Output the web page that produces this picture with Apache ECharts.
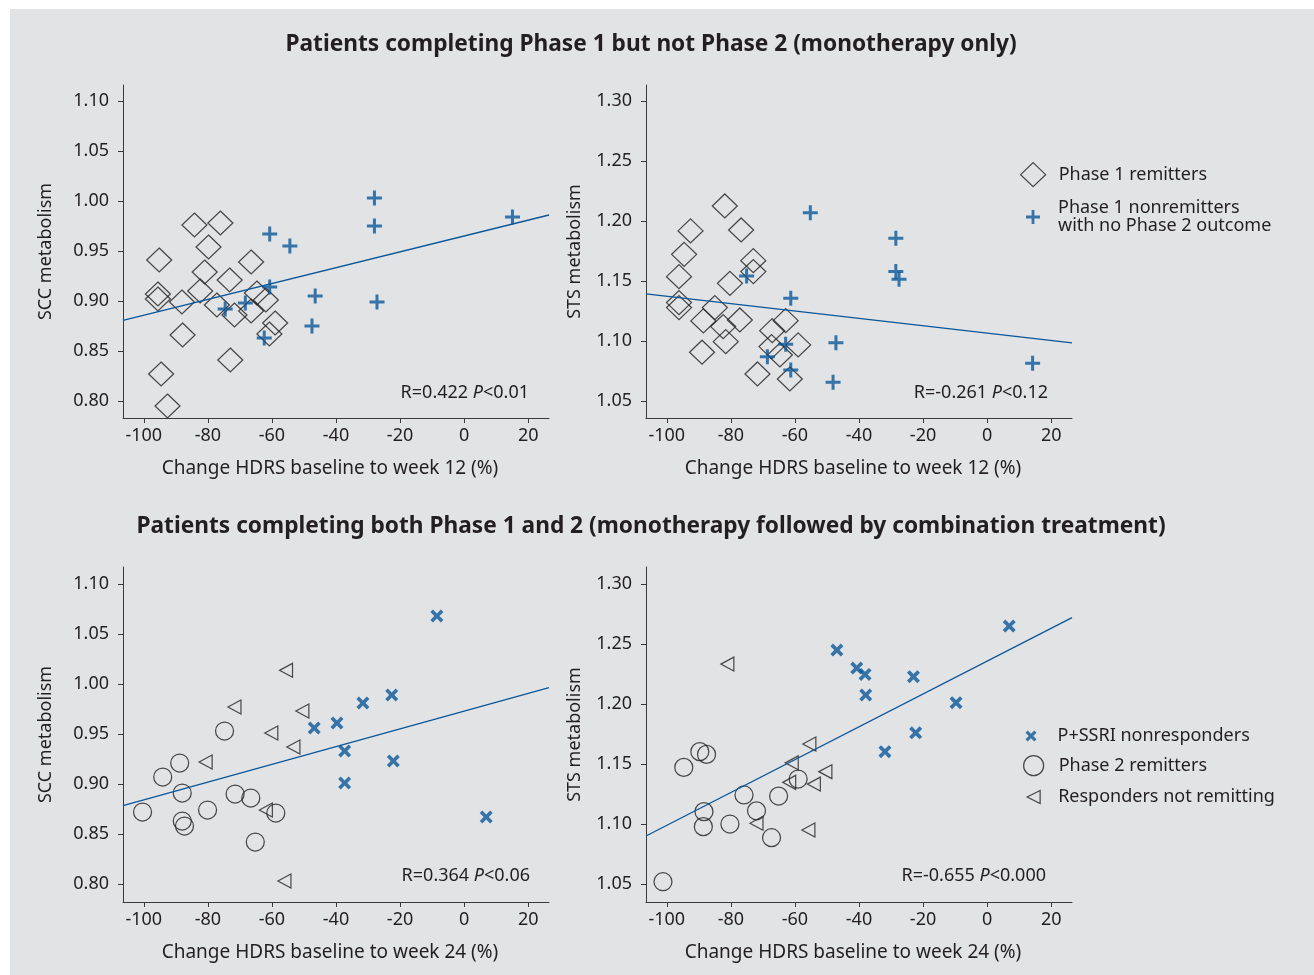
<!DOCTYPE html>
<html>
<head>
<meta charset="utf-8">
<script src="https://cdn.jsdelivr.net/npm/echarts@6/dist/echarts.min.js"></script>
<style>
html,body{margin:0;padding:0;background:#fff;}
#bg{position:absolute;left:10px;top:9px;width:1304px;height:966px;background:#e1e3e5;}
#chart{position:absolute;left:0;top:0;width:1314px;height:975px;}
</style>
</head>
<body>
<div id="bg"></div>
<div id="chart"></div>
<script>
// ---- Data ----
const xTicks = [-100, -80, -60, -40, -20, 0, 20];
const sccTicks = [0.80, 0.85, 0.90, 0.95, 1.00, 1.05, 1.10];
const stsTicks = [1.05, 1.10, 1.15, 1.20, 1.25, 1.30];

// Top row: Phase 1 only
const p1RemittersSCC = [[-95.2,0.941],[-84.2,0.976],[-76.1,0.978],[-79.8,0.954],[-66.5,0.939],[-81.0,0.929],[-73.2,0.921],[-95.6,0.907],[-95.6,0.902],[-88.1,0.899],[-82.4,0.910],[-77.2,0.896],[-71.7,0.886],[-66.5,0.890],[-64.7,0.908],[-61.9,0.901],[-59.0,0.878],[-60.8,0.867],[-87.9,0.866],[-73.0,0.841],[-94.6,0.827],[-92.6,0.795]];
const p1NonremSCC = [[-28.0,1.003],[-28.0,0.975],[15.1,0.984],[-60.7,0.967],[-54.4,0.955],[-60.7,0.914],[-46.5,0.905],[-27.2,0.899],[-74.6,0.892],[-68.3,0.898],[-47.5,0.875],[-62.4,0.863]];
const p1RemittersSTS = [[-81.9,1.2125],[-92.6,1.1917],[-76.8,1.1925],[-94.6,1.1722],[-73.0,1.1669],[-73.0,1.1578],[-96.2,1.1536],[-80.3,1.148],[-96.2,1.132],[-96.2,1.1278],[-85.0,1.1278],[-88.6,1.1167],[-77.2,1.1175],[-82.4,1.112],[-81.6,1.0994],[-62.9,1.1169],[-67.1,1.1086],[-59.0,1.0967],[-64.7,1.0883],[-67.3,1.0953],[-89.0,1.0906],[-71.7,1.0725],[-61.6,1.0683]];
const p1NonremSTS = [[-55.2,1.2069],[-28.5,1.1856],[-28.5,1.1578],[-27.5,1.1514],[-75.1,1.1542],[-61.3,1.1356],[-47.2,1.0986],[-62.9,1.0972],[-68.6,1.0869],[-61.3,1.0758],[-48.1,1.0656],[14.2,1.0814]];

// Bottom row: Phase 1 and 2
const ssriNonrespSCC = [[-8.5,1.068],[-22.6,0.989],[-31.6,0.981],[-39.7,0.961],[-46.8,0.956],[-37.3,0.933],[-22.1,0.923],[-37.3,0.901],[6.9,0.867]];
const p2RemittersSCC = [[-100.4,0.872],[-94.1,0.907],[-88.8,0.921],[-88.0,0.891],[-88.0,0.863],[-87.3,0.858],[-80.1,0.874],[-74.8,0.953],[-71.5,0.890],[-66.6,0.886],[-58.8,0.871],[-65.2,0.842]];
const respNotRemSCC = [[-55.6,1.0137],[-71.7,0.977],[-50.5,0.973],[-60.2,0.951],[-53.3,0.937],[-80.7,0.922],[-61.9,0.874],[-56.1,0.803]];
const ssriNonrespSTS = [[6.9,1.265],[-46.9,1.245],[-40.7,1.230],[-38.1,1.2247],[-37.9,1.2075],[-23.0,1.2228],[-9.7,1.2011],[-22.3,1.176],[-31.9,1.1603]];
const p2RemittersSTS = [[-101.2,1.0519],[-94.7,1.1472],[-89.7,1.1603],[-87.6,1.158],[-88.4,1.1103],[-88.6,1.0978],[-80.3,1.100],[-75.9,1.1242],[-72.0,1.111],[-65.1,1.1233],[-67.3,1.0886],[-59.0,1.1375]];
const respNotRemSTS = [[-81.1,1.2333],[-55.5,1.1667],[-61.0,1.151],[-50.5,1.1436],[-54.1,1.1333],[-61.8,1.1347],[-72.0,1.1006],[-55.8,1.095]];

// Regression lines (end points)
const fitTL = [[-106.5,0.8806],[26.5,0.986]];
const fitTR = [[-106.5,1.1392],[26.5,1.0984]];
const fitBL = [[-106.5,0.8783],[26.5,0.9964]];
const fitBR = [[-106.5,1.090],[26.5,1.272]];

const statsText = ['R=0.422 |P|<0.01', 'R=-0.261 |P|<0.12', 'R=0.364 |P|<0.06', 'R=-0.655 |P|<0.000'];
const titles = ['Patients completing Phase 1 but not Phase 2 (monotherapy only)',
  'Patients completing both Phase 1 and 2 (monotherapy followed by combination treatment)'];

// ---- Styling ----
const FONT = 'Noto Sans';
const INK = '#231f20';
const BLUE = '#0a5699';
const plusPath = 'path://M6,0h3v6h6v3h-6v6h-3v-6h-6v-3h6z';
const crossPath = 'path://M0,2L2,0L5,3L8,0L10,2L7,5L10,8L8,10L5,7L2,10L0,8L3,5Z';
const triPath = 'path://M0,6L12,0L12,12Z';
const hollow = {color: 'rgba(0,0,0,0)', borderColor: INK, borderWidth: 1.25};
const blueFill = {color: BLUE, borderWidth: 0};

const NAME_REM1 = 'Phase 1 remitters';
const NAME_NON1 = 'Phase 1 nonremitters\nwith no Phase 2 outcome';
const NAME_SSRI = 'P+SSRI nonresponders';
const NAME_REM2 = 'Phase 2 remitters';
const NAME_RESP = 'Responders not remitting';

const grids = [
  {left: 123, top: 85, width: 426, height: 333},
  {left: 646, top: 85, width: 426, height: 333},
  {left: 123, top: 567, width: 426, height: 335},
  {left: 646, top: 567, width: 426, height: 335}
];

function xAxisFor(i, name) {
  return {
    type: 'value', gridIndex: i, min: -106.5, max: 26.5,
    name: name, nameLocation: 'middle', nameGap: 41,
    nameTextStyle: {fontFamily: FONT, fontSize: 19, color: INK, padding: [0, 12, 0, 0]},
    axisLine: {show: true, lineStyle: {color: '#3a3a3a', width: 1}},
    axisTick: {show: true, inside: false, length: 5, customValues: xTicks, lineStyle: {color: '#3a3a3a'}},
    axisLabel: {customValues: xTicks, margin: 9, fontFamily: FONT, fontSize: 18, color: INK},
    splitLine: {show: false}
  };
}
function yAxisFor(i, name, min, max, ticks, gap) {
  return {
    type: 'value', gridIndex: i, min: min, max: max,
    name: name, nameLocation: 'middle', nameGap: gap,
    nameTextStyle: {fontFamily: FONT, fontSize: 18, color: INK},
    axisLine: {show: true, onZero: false, lineStyle: {color: '#3a3a3a', width: 1}},
    axisTick: {show: true, inside: false, length: 5, customValues: ticks, lineStyle: {color: '#3a3a3a'}},
    axisLabel: {customValues: ticks, margin: 14, fontFamily: FONT, fontSize: 18, color: INK,
      formatter: v => v.toFixed(2)},
    splitLine: {show: false}
  };
}

function scatter(name, data, gi, symbol, size, style, z) {
  return {type: 'scatter', name: name, data: data, xAxisIndex: gi, yAxisIndex: gi,
    symbol: symbol, symbolSize: size, itemStyle: style, z: z || 3, silent: true};
}
function fitLine(data, gi) {
  return {type: 'line', data: data, xAxisIndex: gi, yAxisIndex: gi, showSymbol: false, symbol: 'none',
    lineStyle: {color: BLUE, width: 1.3}, z: 4, silent: true};
}

function statTitle(txt, right, top) {
  const parts = txt.split('|');
  return {
    text: '{a|' + parts[0] + '}{i|' + parts[1] + '}{a|' + parts[2] + '}',
    right: right, top: top, padding: 0,
    textStyle: {fontWeight: 'normal', rich: {
      a: {fontFamily: FONT, fontSize: 18, color: INK, fontWeight: 'normal'},
      i: {fontFamily: FONT, fontSize: 18, color: INK, fontStyle: 'italic', fontWeight: 'normal'}
    }}
  };
}

function legendOne(item, left, top, w, h, pad) {
  return {
    data: [item], left: left, top: top, itemWidth: w, itemHeight: h, orient: 'vertical',
    selectedMode: false, padding: 0,
    textStyle: {fontFamily: FONT, fontSize: 18, color: INK, padding: [0, 0, 0, pad], lineHeight: 18}
  };
}

const option = {
  animation: false,
  backgroundColor: 'transparent',
  textStyle: {fontFamily: FONT},
  title: [
    {text: titles[0], left: 651, textAlign: 'center', top: 33, padding: 0,
      textStyle: {fontFamily: FONT, fontSize: 22.7, fontWeight: 'bold', color: INK}},
    {text: titles[1], left: 651, textAlign: 'center', top: 515, padding: 0,
      textStyle: {fontFamily: FONT, fontSize: 22.7, fontWeight: 'bold', color: INK}},
    statTitle(statsText[0], 785, 384),
    statTitle(statsText[1], 266, 384),
    statTitle(statsText[2], 784, 867),
    statTitle(statsText[3], 268, 867)
  ],
  legend: [
    legendOne({name: NAME_REM1, icon: 'diamond', itemStyle: hollow}, 1020, 162, 25, 24, 8),
    legendOne({name: NAME_NON1, icon: plusPath, itemStyle: blueFill}, 1026, 199, 14, 14, 13),
    legendOne({name: NAME_SSRI, icon: crossPath, itemStyle: blueFill}, 1025.5, 727, 11, 11, 16),
    legendOne({name: NAME_REM2, icon: 'circle', itemStyle: hollow}, 1023, 755, 20, 20, 10),
    legendOne({name: NAME_RESP, icon: triPath, itemStyle: hollow}, 1026.5, 788, 13, 14, 13)
  ],
  grid: grids,
  xAxis: [
    xAxisFor(0, 'Change HDRS baseline to week 12 (%)'),
    xAxisFor(1, 'Change HDRS baseline to week 12 (%)'),
    xAxisFor(2, 'Change HDRS baseline to week 24 (%)'),
    xAxisFor(3, 'Change HDRS baseline to week 24 (%)')
  ],
  yAxis: [
    yAxisFor(0, 'SCC metabolism', 0.783, 1.116, sccTicks, 68),
    yAxisFor(1, 'STS metabolism', 1.0358, 1.3133, stsTicks, 62),
    yAxisFor(2, 'SCC metabolism', 0.782, 1.117, sccTicks, 68),
    yAxisFor(3, 'STS metabolism', 1.035, 1.3142, stsTicks, 62)
  ],
  series: [
    scatter(NAME_REM1, p1RemittersSCC, 0, 'diamond', [25, 24], hollow, 2),
    scatter(NAME_NON1, p1NonremSCC, 0, plusPath, 15, blueFill, 5),
    fitLine(fitTL, 0),
    scatter(NAME_REM1, p1RemittersSTS, 1, 'diamond', [25, 24], hollow, 2),
    scatter(NAME_NON1, p1NonremSTS, 1, plusPath, 15, blueFill, 5),
    fitLine(fitTR, 1),
    scatter(NAME_SSRI, ssriNonrespSCC, 2, crossPath, 13, blueFill, 5),
    scatter(NAME_REM2, p2RemittersSCC, 2, 'circle', 18, hollow, 2),
    scatter(NAME_RESP, respNotRemSCC, 2, triPath, [13, 14], hollow, 2),
    fitLine(fitBL, 2),
    scatter(NAME_SSRI, ssriNonrespSTS, 3, crossPath, 13, blueFill, 5),
    scatter(NAME_REM2, p2RemittersSTS, 3, 'circle', 18, hollow, 2),
    scatter(NAME_RESP, respNotRemSTS, 3, triPath, [13, 14], hollow, 2),
    fitLine(fitBR, 3)
  ]
};

const chart = echarts.init(document.getElementById('chart'), null, {renderer: 'canvas'});
chart.setOption(option);
</script>
</body>
</html>
